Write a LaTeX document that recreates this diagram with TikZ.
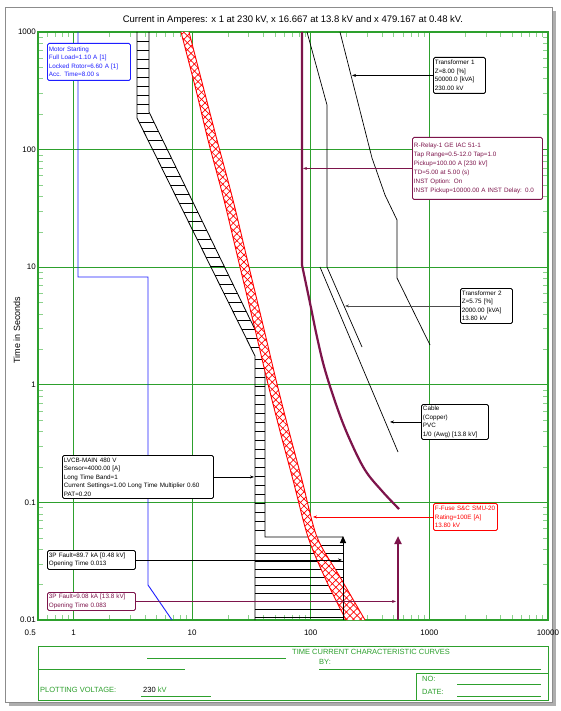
\documentclass[tikz,border=0pt]{standalone}
\usepackage{fontspec}
\setmainfont{Liberation Sans}
\usetikzlibrary{arrows.meta,patterns.meta}

\definecolor{gridgreen}{RGB}{45,160,45}
\definecolor{tickgreen}{RGB}{140,210,140}
\definecolor{relaymaroon}{RGB}{125,20,75}
\definecolor{motorblue}{RGB}{30,30,255}
\definecolor{fusered}{RGB}{255,0,0}
\definecolor{framegray}{RGB}{140,140,140}

\tikzset{
  lead/.style = {line width=.6pt,-{Stealth[length=4pt,width=3pt]}},
  lblbox/.style = {draw, fill=white, rounded corners=1.5pt, line width=.9pt,
      inner sep=1.5pt, align=left, anchor=north west,
      font=\fontsize{6.3}{8.5}\selectfont},
  grid line/.style = {gridgreen, line width=1.1pt},
  minortick/.style = {tickgreen, line width=.6pt},
  axislbl/.style = {font=\fontsize{8}{9}\selectfont, inner sep=1pt},
  blocktxt/.style = {gridgreen, anchor=west, inner sep=0pt,
      font=\fontsize{7.5}{8}\selectfont},
  curve/.style = {line width=.7pt}
}

\begin{document}
\begin{tikzpicture}[x=1pt,y=-1pt]
  \useasboundingbox (0,0) rectangle (561,711);
  % page with shadow
  \fill[framegray!70] (9,11) rectangle (556,706);
  \draw[framegray, fill=white, line width=.6pt] (5,7) rectangle (552,702);

  \node[font=\fontsize{9.5}{11}\selectfont] (title) at (293,20)
    {Current in Amperes: x 1 at 230 kV, x 16.667 at 13.8 kV and x 479.167 at 0.48 kV.};
  \node[rotate=90, font=\fontsize{9}{10}\selectfont] (ytitle) at (17,330) {Time in Seconds};

  % minor ticks, log spacing
  \foreach \d in {-1,0,1,2,3}
    \foreach \m in {2,...,9} {
      \pgfmathsetmacro{\px}{73.5+118.6*(\d+log10(\m))}
      \pgfmathtruncatemacro{\ok}{and(\px>39,\px<547)}
      \ifnum\ok=1
        \draw[minortick] (\px,620) -- ++(0,-5);
        \draw[minortick] (\px,32) -- ++(0,5);
      \fi
    }
  \foreach \d in {-2,...,2}
    \foreach \m in {2,...,9} {
      \pgfmathsetmacro{\py}{384.8-117.6*(\d+log10(\m))}
      \draw[minortick] (38,\py) -- ++(5,0);
      \draw[minortick] (548,\py) -- ++(-5,0);
    }

  % decade grid
  \foreach \gx in {73.5,192.1,310.7,429.3}
    \draw[grid line] (\gx,32) -- (\gx,620);
  \foreach \gy in {149.6,267.2,384.8,502.4}
    \draw[grid line] (38,\gy) -- (548,\gy);
  \draw[grid line, line width=1.5pt] (38,32) rectangle (548,620);

  \foreach \gy/\tv [count=\i] in {32/1000,149.6/100,267.2/10,384.8/1,502.4/0.1,620/0.01}
    \node[axislbl, anchor=east] (ylab\i) at (37,\gy) {\tv};
  \node[axislbl, anchor=east] (xlab0) at (37,633) {0.5};
  \foreach \gx/\tv [count=\i] in {73.5/1,192.1/10,310.7/100,429.3/1000,547.9/10000}
    \node[axislbl] (xlab\i) at (\gx,633) {\tv};

  % motor starting
  \draw[motorblue, line width=.9pt] (78,32) -- (78,277) -- (148,277) -- (148,585) -- (172,620);

  % low voltage breaker band
  \begin{scope}[line width=.8pt]
    \draw (137,32) -- (137,118) -- (255,356) -- (255,620);
    \draw (149,32) -- (149,112) -- (265,350) -- (265,537) -- (343,537);
    \foreach \y in {41,50,...,113}
      \draw (137,\y) -- (149,\y);
    \foreach \y in {122,131,...,350} {
      \pgfmathsetmacro{\xl}{137+(\y-118)/238*118}
      \pgfmathsetmacro{\xr}{min(149+(\y-112)/238*116,265)}
      \draw (\xl,\y) -- (\xr,\y);
    }
    \foreach \y in {359,368,...,530}
      \draw (255,\y) -- (265,\y);
    \foreach \y in {545,553,...,617}
      \draw (255,\y) -- (343,\y);
  \end{scope}

  % fuse band
  \path[fill=white,
        postaction={pattern={Lines[angle=45,distance=5pt,line width=.7pt]}, pattern color=fusered},
        postaction={pattern={Lines[angle=-45,distance=5pt,line width=.7pt]}, pattern color=fusered}]
    plot[smooth] coordinates {(181,32) (196,90) (208,140) (224,200) (240,267) (254,325)
      (268,384) (281,435) (293,480) (308,537) (326,580) (346,620)}
    -- plot[smooth] coordinates {(365,620) (340,577) (317,537) (302,480) (290,435) (277,384)
      (263,325) (249,267) (233,200) (217,140) (204,90) (189,32)} -- cycle;
  \draw[fusered, line width=.9pt] plot[smooth] coordinates {(181,32) (196,90) (208,140)
    (224,200) (240,267) (254,325) (268,384) (281,435) (293,480) (308,537) (326,580) (346,620)};
  \draw[fusered, line width=.9pt] plot[smooth] coordinates {(189,32) (204,90) (217,140)
    (233,200) (249,267) (263,325) (277,384) (290,435) (302,480) (317,537) (340,577) (365,620)};

  % relay
  \draw[relaymaroon, line width=2.2pt] (302,32) -- plot[smooth, tension=.6] coordinates {(302,265)
    (310,303) (317,337) (325,370) (338,410) (350,440) (365,470) (382,491) (399,509)};

  % transformer and cable damage
  \draw[curve] (340,32) -- (372,158) -- (385,195) -- (397,220) -- (397,278) -- (430,345);
  \draw[curve] (307,32) -- (327,105) -- (327,267) -- (362,347);
  \draw[curve] (320,267) -- (398,452);

  % fault current arrows
  \draw[line width=1pt, -{Triangle[length=7pt,width=6pt]}] (343,620) -- (343,536);
  \draw[relaymaroon, line width=2pt, -{Triangle[length=8pt,width=7pt]}] (398,620) -- (398,536);

  % points the labels point at
  \coordinate (xfmrAhit) at (352,75);
  \coordinate (relayhit) at (303,170);
  \coordinate (xfmrBhit) at (345,307);
  \coordinate (cablehit) at (390,422);
  \coordinate (brkhit) at (254,477);
  \coordinate (fusehit) at (313,517);
  \coordinate (faultlvhit) at (342,560);
  \coordinate (faultmvhit) at (396,601);

  % labels
  \node[lblbox, draw=motorblue, text=motorblue, text width=80pt, minimum height=37pt] (motor) at (47,43)
    {Motor Starting\\Full Load=1.10 A [1]\\Locked Rotor=6.60 A [1]\\Acc. Time=8.00 s};
  \node[lblbox, text width=49pt, minimum height=36pt] (xfmrA) at (433,57)
    {Transformer 1\\Z=8.00 [\%]\\50000.0 [kVA]\\230.00 kV};
  \node[lblbox, draw=relaymaroon, text=relaymaroon, text width=127pt, minimum height=62pt,
        font=\fontsize{6.3}{9}\selectfont] (relay) at (412,137)
    {R-Relay-1 GE IAC 51-1\\Tap Range=0.5-12.0 Tap=1.0\\Pickup=100.00 A [230 kV]\\TD=5.00 at 5.00 (s)\\INST Option: On\\INST Pickup=10000.00 A INST Delay: 0.0};
  \node[lblbox, text width=49pt, minimum height=35pt] (xfmrB) at (460,288)
    {Transformer 2\\Z=5.75 [\%]\\2000.00 [kVA]\\13.80 kV};
  \node[lblbox, text width=64pt, minimum height=35pt] (cable) at (421,404)
    {Cable\\(Copper)\\PVC\\1/0 (Awg) [13.8 kV]};
  \node[lblbox, text width=148pt, minimum height=43pt] (brk) at (62,455)
    {LVCB-MAIN 480 V\\Sensor=4000.00 [A]\\Long Time Band=1\\Current Settings=1.00 Long Time Multiplier 0.60\\PAT=0.20};
  \node[lblbox, draw=fusered, text=fusered, text width=61pt, minimum height=27pt] (fuse) at (433,503)
    {F-Fuse S\&C SMU-20\\Rating=100E [A]\\13.80 kV};
  \node[lblbox, text width=85pt, minimum height=19pt] (faultlv) at (47,550)
    {3P Fault=89.7 kA [0.48 kV]\\Opening Time 0.013};
  \node[lblbox, draw=relaymaroon, text=relaymaroon, text width=85pt, minimum height=18pt] (faultmv) at (47,592)
    {3P Fault=9.08 kA [13.8 kV]\\Opening Time 0.083};

  % leaders
  \draw[lead] (xfmrA.west) -- (xfmrA.west -| xfmrAhit);
  \draw[lead, relaymaroon] (relay.west) -- (relay.west -| relayhit);
  \draw[lead, black!70] (xfmrB.west) -- (xfmrB.west -| xfmrBhit);
  \draw[lead] (cable.west) -- (cable.west -| cablehit);
  \draw[lead] (brk.east) -- (brk.east -| brkhit);
  \draw[lead, fusered] (fuse.west) -- (fuse.west -| fusehit);
  \draw[lead] (faultlv.east) -- (faultlv.east -| faultlvhit);
  \draw[lead, relaymaroon] (faultmv.east) -- (faultmv.east -| faultmvhit);

  % title block
  \draw[gridgreen, line width=1pt] (38,646) rectangle (548,700);
  \draw[gridgreen, line width=1pt] (416,700) -- (416,673) -- (548,673);
  \draw[gridgreen, line width=.8pt] (147,658) -- (286,658) (38,669) -- (185,669)
    (319,669) -- (541,669) (457,684) -- (541,684) (457,696) -- (541,696) (141,696) -- (211,696);
  \node[blocktxt] (tcctitle) at (292,652) {TIME CURRENT CHARACTERISTIC CURVES};
  \node[blocktxt] (bylbl) at (319,662) {BY:};
  \node[blocktxt] (nolbl) at (422,679) {NO:};
  \node[blocktxt] (datelbl) at (422,692) {DATE:};
  \node[blocktxt] (pvlbl) at (40,690) {PLOTTING VOLTAGE:};
  \node[blocktxt] (pvval) at (143,690) {\textcolor{black}{230} kV};
\end{tikzpicture}
\end{document}
